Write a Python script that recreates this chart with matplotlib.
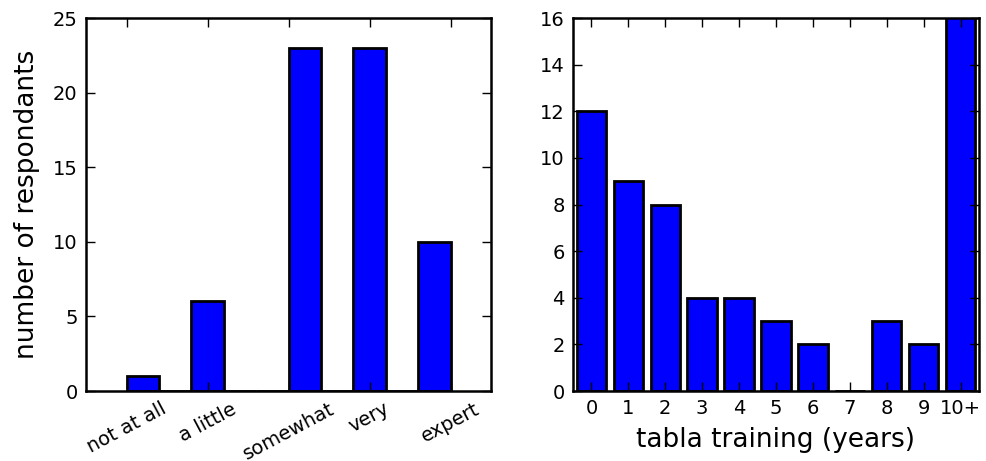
import matplotlib
matplotlib.use("Agg")
import matplotlib.pyplot as plt

# Left panel: self-rated familiarity (Likert levels 1..5)
likert_levels = [1, 2, 3, 4, 5]
likert_labels = ["not at all", "a little", "somewhat", "very", "expert"]
likert_counts = [1, 6, 23, 23, 10]

# Right panel: years of tabla training
years_labels = ["0", "1", "2", "3", "4", "5", "6", "7", "8", "9", "10+"]
years_counts = [12, 9, 8, 4, 4, 3, 2, 0, 3, 2, 18]

plt.rcParams['font.family'] = ['DejaVu Sans']

fig = plt.figure(figsize=(9.86, 4.61), dpi=100)
W, H = 986, 461
ax1 = fig.add_axes([86 / W, (H - 391) / H, 405 / W, 373 / H])
ax2 = fig.add_axes([573 / W, (H - 391) / H, 406 / W, 373 / H])

bar_kw = dict(color="#0000ff", edgecolor="black", linewidth=2.0)

ax1.hist(likert_levels, bins=10, range=(1, 5), weights=likert_counts, **bar_kw)
ax1.set_xlim(0.5, 5.5)
ax1.set_ylim(0, 25)
ax1.set_yticks([0, 5, 10, 15, 20, 25])
ax1.set_xticks(likert_levels)
ax1.set_xticklabels(likert_labels, rotation=28, ha="center")
ax1.set_ylabel("number of respondants", fontsize=19, labelpad=9)

xpos = list(range(len(years_labels)))
ax2.bar(xpos, years_counts, width=0.8, align="center", **bar_kw)
ax2.set_xlim(-0.5, 10.5)
ax2.set_ylim(0, 16)
ax2.set_yticks(range(0, 17, 2))
ax2.set_xticks(xpos)
ax2.set_xticklabels(years_labels)
ax2.set_xlabel("tabla training (years)", fontsize=19, labelpad=6)

for ax in (ax1, ax2):
    for sp in ax.spines.values():
        sp.set_linewidth(1.8)
        sp.set_zorder(3)
    ax.tick_params(direction="in", length=6.5, width=1.0, top=True, right=True,
                   labelsize=14, pad=6)
    ax.tick_params(axis="y", pad=6)

fig.savefig("out.png", dpi=100)
